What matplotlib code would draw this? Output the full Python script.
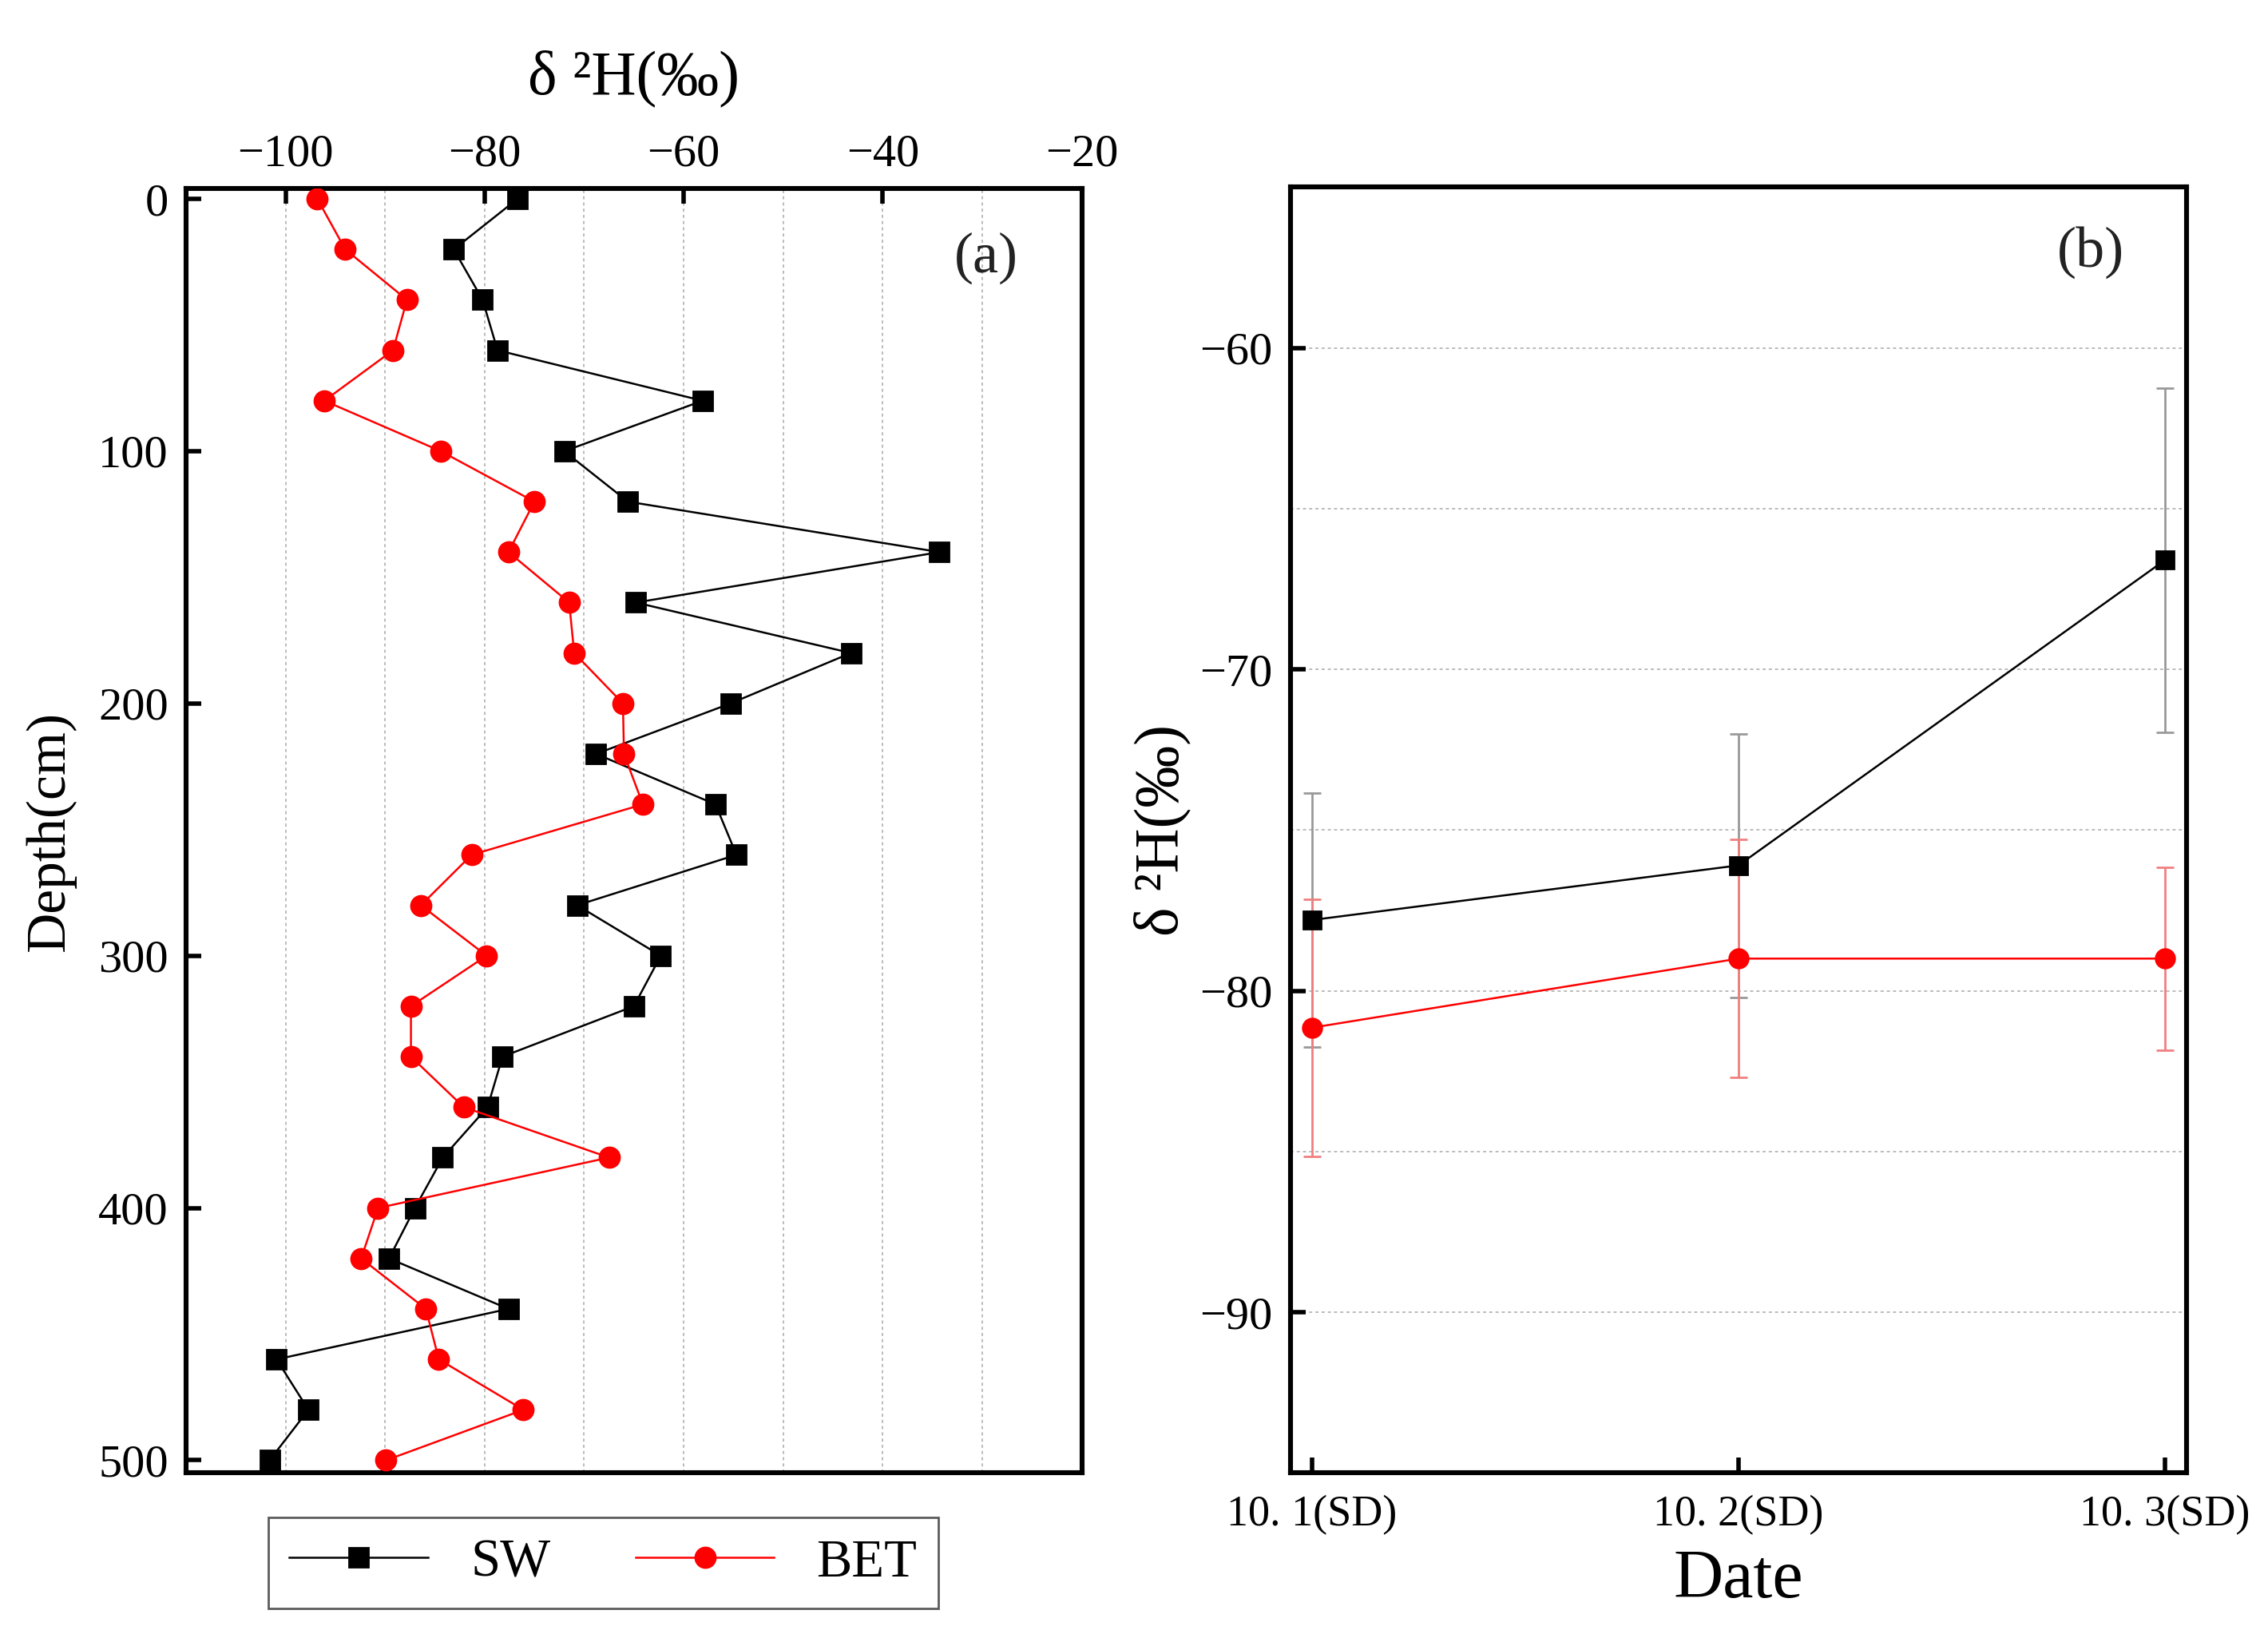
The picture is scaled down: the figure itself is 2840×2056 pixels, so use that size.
import matplotlib
matplotlib.use("Agg")
import matplotlib.pyplot as plt
from matplotlib.lines import Line2D

plt.rcParams['font.family'] = ['Liberation Serif', 'DejaVu Serif']

# ---- Panel (a) data: depth profile ----
depth = [0, 20, 40, 60, 80, 100, 120, 140, 160, 180, 200, 220, 240,
         260, 280, 300, 320, 340, 360, 380, 400, 420, 440, 460, 480, 500]
sw_profile = [-76.7, -83.1, -80.2, -78.7, -58.1, -72.0, -65.6, -34.3, -64.8,
              -43.2, -55.3, -68.8, -56.8, -54.7, -70.7, -62.3, -65.0, -78.2,
              -79.7, -84.2, -87.0, -89.6, -77.6, -100.9, -97.7, -101.6]
bet_profile = [-96.8, -94.0, -87.8, -89.2, -96.1, -84.4, -75.0, -77.6, -71.5,
               -71.0, -66.1, -66.0, -64.1, -81.3, -86.4, -79.8, -87.4, -87.4,
               -82.1, -67.5, -90.7, -92.4, -85.9, -84.6, -76.1, -89.9]

# ---- Panel (b) data: dates ----
dates = ["10. 1(SD)", "10. 2(SD)", "10. 3(SD)"]
sw_mean = [-77.8, -76.1, -66.6]
sw_sd = [3.95, 4.1, 5.35]
bet_mean = [-81.15, -79.0, -79.0]
bet_sd = [4.0, 3.7, 2.85]

series_names = ["SW", "BET"]

fig = plt.figure(figsize=(14.2, 10.28), dpi=200)

# ---------------- Panel (a) ----------------
axa = fig.add_axes([0.082, 0.103, 0.395, 0.782])
axa.plot(sw_profile, depth, color='black', lw=0.9, marker='s', ms=8.5,
         mfc='black', mec='black', zorder=3)
axa.plot(bet_profile, depth, color='red', lw=0.9, marker='o', ms=9,
         mfc='red', mec='red', zorder=3)
axa.set_xlim(-110, -20)
axa.set_ylim(505, -4)
axa.xaxis.tick_top()
axa.xaxis.set_label_position('top')
axa.set_xticks([-100, -80, -60, -40, -20])
axa.set_xticklabels(['\u2212100', '\u221280', '\u221260', '\u221240', '\u221220'])
axa.set_xticks(range(-100, -20, 10), minor=True)
axa.set_yticks([0, 100, 200, 300, 400, 500])
axa.grid(True, axis='x', which='both', color='#bbbbbb', ls=(0, (2, 2)), lw=0.7)
axa.tick_params(axis='x', which='major', direction='in', length=7, width=2,
                labelsize=21, pad=6, top=True, bottom=False)
axa.tick_params(axis='x', which='minor', length=0)
axa.tick_params(axis='y', which='major', direction='in', length=7, width=2,
                labelsize=21, pad=8, right=False)
axa.set_xlabel('\u03b4 \u00b2H(\u2030)', fontsize=28, labelpad=18)
axa.set_ylabel('Depth(cm)', fontsize=25, labelpad=10)
for s in axa.spines.values():
    s.set_linewidth(2.2)
axa.text(0.893, 0.946, '(a)', transform=axa.transAxes, fontsize=26,
         ha='center', va='center', color='#222222')

# ---------------- Panel (b) ----------------
axb = fig.add_axes([0.569, 0.103, 0.395, 0.783])
xs = list(range(len(dates)))
axb.errorbar(xs, sw_mean, yerr=sw_sd, color='black', lw=0.9, marker='s', ms=8,
             mfc='black', mec='black', ecolor='#999999', elinewidth=1.0,
             capsize=4, capthick=1.0, zorder=3)
axb.errorbar(xs, bet_mean, yerr=bet_sd, color='red', lw=0.9, marker='o', ms=8.5,
             mfc='red', mec='red', ecolor='#f08080', elinewidth=1.0,
             capsize=4, capthick=1.0, zorder=3)
axb.set_xlim(-0.05, 2.05)
axb.set_ylim(-95, -55)
axb.set_xticks(xs)
axb.set_xticklabels(dates)
axb.set_yticks([-90, -80, -70, -60])
axb.set_yticklabels(['\u221290', '\u221280', '\u221270', '\u221260'])
axb.set_yticks([-85, -75, -65], minor=True)
axb.grid(True, axis='y', which='both', color='#bbbbbb', ls=(0, (2, 2)), lw=0.7)
axb.tick_params(axis='y', which='major', direction='in', length=7, width=2,
                labelsize=21, pad=8, right=False)
axb.tick_params(axis='y', which='minor', length=0)
axb.tick_params(axis='x', which='major', direction='in', length=7, width=2,
                labelsize=19.5, pad=10, top=False)
axb.set_xlabel('Date', fontsize=31, labelpad=6)
axb.set_ylabel('\u03b4 \u00b2H(\u2030)', fontsize=28, labelpad=4)
for s in axb.spines.values():
    s.set_linewidth(2.2)
axb.text(0.893, 0.949, '(b)', transform=axb.transAxes, fontsize=26,
         ha='center', va='center', color='#222222')

# ---------------- Legend ----------------
handles = [Line2D([], [], color='black', lw=0.9, marker='s', ms=8.5),
           Line2D([], [], color='red', lw=0.9, marker='o', ms=9)]
leg = fig.legend(handles, series_names, loc='center', bbox_to_anchor=(0.266, 0.048),
                 ncol=2, fontsize=24, frameon=True, fancybox=False,
                 edgecolor='#333333', handlelength=2.6, columnspacing=1.6,
                 handletextpad=0.8, borderpad=0.4, borderaxespad=0)
leg.get_frame().set_linewidth(1.0)

fig.savefig('out.png', dpi=200)
